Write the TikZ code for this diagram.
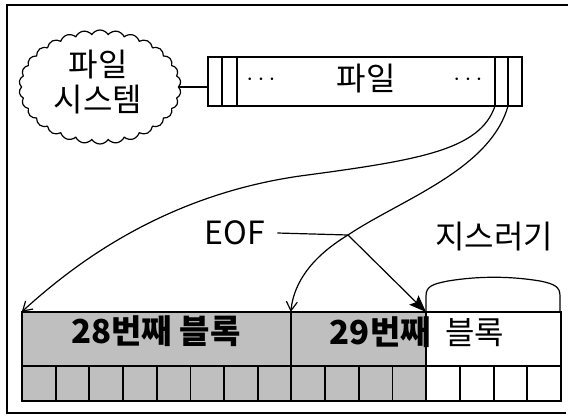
\documentclass[tikz,border=0pt]{standalone}
\usepackage{fontspec}
\setmainfont{Noto Sans CJK KR}
\usetikzlibrary{shapes.symbols,arrows.meta}
\begin{document}
\begin{tikzpicture}[x=1pt,y=-1pt,
  thinline/.style={line width=1.2pt},
  heavy/.style={line width=1.8pt},
  lbl/.style={inner sep=0pt,font=\fontsize{32}{35}\selectfont},
  dots/.style={inner sep=0pt,font=\fontsize{26}{26}\selectfont},
  varrow/.style={-{Straight Barb[length=9pt,width=11pt,line width=1.2pt]}},
  farrow/.style={-{Stealth[length=17pt,width=13pt,inset=3pt]}}
]
\useasboundingbox (0,0) rectangle (568,416);
% frame
\draw[line width=1.4pt] (568,5) -- (7,5) -- (7,413) -- (566,413);
% cloud
\node[cloud, draw, thinline, cloud puffs=30, cloud puff arc=115, cloud ignores aspect,
  minimum width=162pt, minimum height=114pt, inner sep=0pt] (cloud) at (100,87) {};
\node[lbl, align=center] (cloudtext) at (98,82) {파일\\시스템};
% file box
\node[draw, thinline, minimum width=314pt, minimum height=49pt, inner sep=0pt] (file) at (365,81.5) {};
\coordinate (l1t) at (222,57); \coordinate (l1b) at (222,106);
\coordinate (l2t) at (237,57); \coordinate (l2b) at (237,106);
\coordinate (r1t) at (495,57); \coordinate (r1b) at (495,106);
\coordinate (r2t) at (508,57); \coordinate (r2b) at (508,106);
\draw[thinline] (l1t) -- (l1b) (l2t) -- (l2b) (r1t) -- (r1b) (r2t) -- (r2b);
\node[dots] (dl) at (261,80) {$\cdots$};
\node[dots] (dr) at (468,80) {$\cdots$};
\node[lbl] (filetext) at (366,79) {파일};
\draw[thinline] (cloud.east) -- (cloud.east -| file.west);
% blocks
\fill[black!25] (22,312) rectangle (426,401);
\node[minimum width=269pt, minimum height=54pt, inner sep=0pt] (b28) at (156.5,339) {};
\node[minimum width=270pt, minimum height=54pt, inner sep=0pt] (b29) at (426,339) {};
\coordinate (g) at (426,312);
\draw[heavy] (22,312) rectangle (561,401);
\draw[heavy] (22,366) -- (561,366);
\draw[heavy] (291,312) -- (291,401) (426,312) -- (426,401);
\foreach \i in {1,...,15} \draw[heavy] (22+\i*33.6875,366) -- (22+\i*33.6875,401);
\node[lbl, font=\fontsize{33}{36}\selectfont\bfseries] (t28) at (156,331) {28번째 블록};
\node[lbl, anchor=base east, font=\fontsize{33}{36}\selectfont\bfseries] (t29a) at (431,344) {29번째};
\node[lbl, anchor=base west] (t29b) at (445,344) {블록};
% garbage bump
\draw[thinline] (426,312) -- (426,296) .. controls (426,286) and (433,284) .. (448,281)
  .. controls (478,276) and (510,276) .. (540,281) .. controls (555,284) and (560,287) .. (560,296) -- (560,312);
\node[lbl] (garb) at (494,237) {지스러기};
% EOF
\node[lbl] (eof) at (235,233) {EOF};
\coordinate (j) at (348,235);
% curves
\draw[thinline, varrow] (r1b) .. controls (480,150) and (420,160) .. (300,176)
  .. controls (160,196) and (70,268) .. (b28.north west);
\draw[thinline, varrow] (r2b) .. controls (490,170) and (400,200) .. (j)
  .. controls (315,255) and (294,280) .. (b29.north west);
\draw[thinline] (eof.east) ++(12pt,0) -- (j);
\draw[thinline, farrow] (j) -- (g);
\end{tikzpicture}
\end{document}
